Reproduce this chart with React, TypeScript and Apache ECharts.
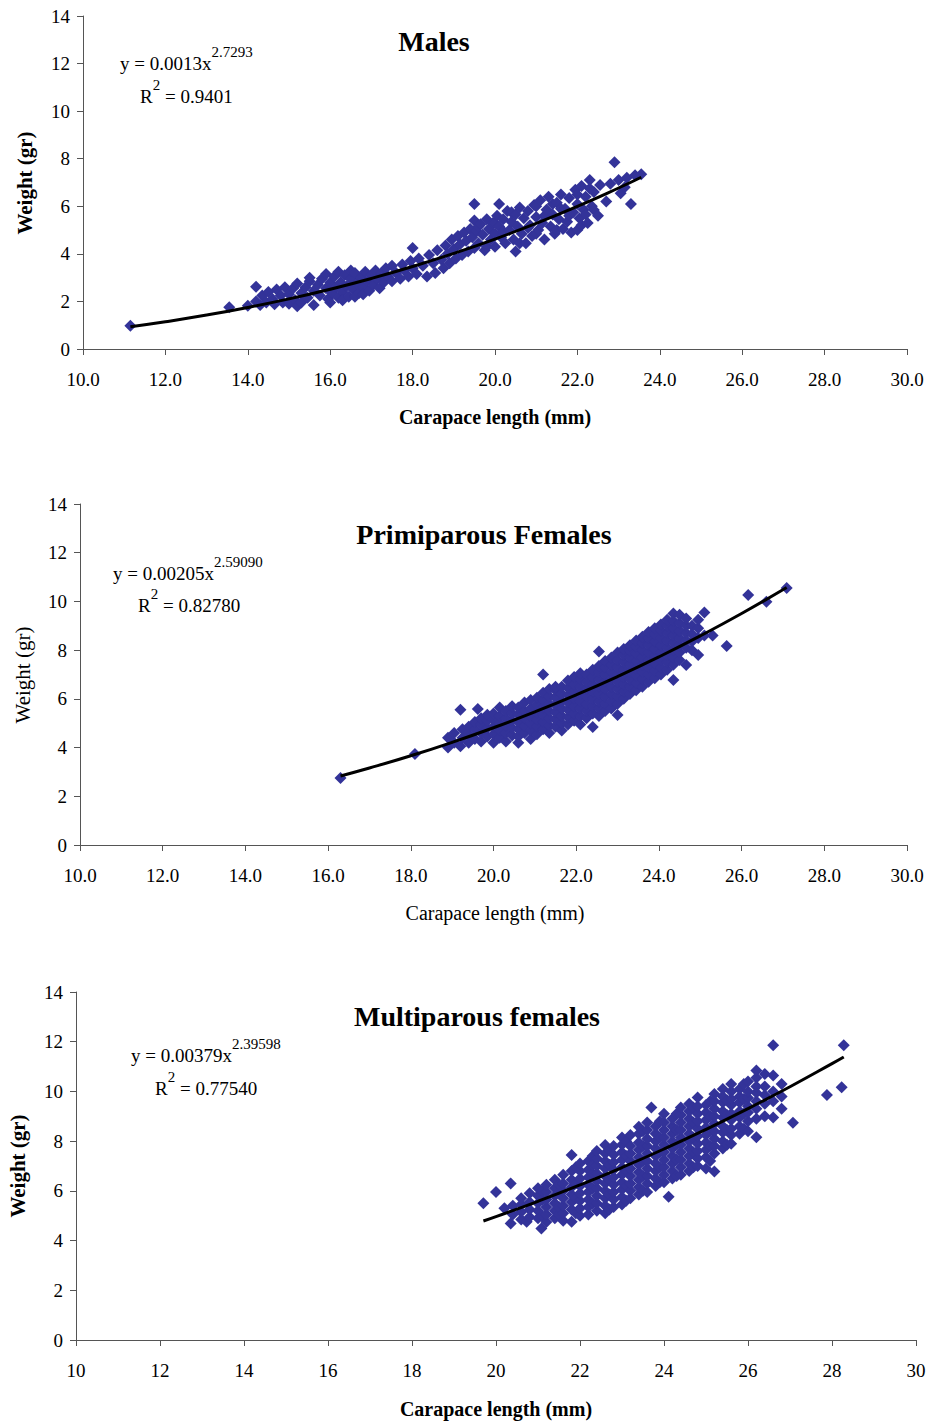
import React, { useEffect, useRef } from "react";
import * as echarts from "echarts";

const FONT = "Liberation Serif";
const MARK = "#333399";

// Axis ticks (carapace length, mm / weight, gr)
const xTicks = [10, 12, 14, 16, 18, 20, 22, 24, 26, 28, 30];
const yTicks = [0, 2, 4, 6, 8, 10, 12, 14];

// Males: [carapace length, weight]
const malesPts: number[][] = [
  [11.15, 0.98], [13.55, 1.76], [14.0, 1.82],
  [14.2, 2.0], [14.2, 2.62], [14.3, 1.85], [14.35, 2.25], [14.45, 1.95], [14.5, 2.4], [14.6, 2.1], [14.65, 1.88],
  [14.7, 2.5], [14.8, 2.25], [14.85, 1.95], [14.9, 2.6], [15.0, 2.3], [15.0, 1.9], [15.1, 2.55], [15.15, 2.05],
  [15.2, 2.75], [15.2, 1.8], [15.3, 2.35], [15.3, 1.95], [15.4, 2.6], [15.45, 2.15], [15.5, 2.85], [15.5, 3.0],
  [15.6, 2.45], [15.6, 1.85], [15.7, 2.7], [15.75, 2.25], [15.8, 2.95], [15.9, 2.55], [15.9, 3.15], [15.95, 2.1],
  [16.0, 2.8], [16.0, 1.95], [16.05, 2.35], [16.1, 3.05], [16.15, 2.6], [16.2, 2.15], [16.2, 3.25], [16.25, 2.8],
  [16.3, 2.4], [16.3, 2.05], [16.35, 3.1], [16.4, 2.65], [16.45, 2.2], [16.5, 2.95], [16.5, 3.3], [16.55, 2.5],
  [16.6, 3.2], [16.6, 2.2], [16.65, 2.75], [16.7, 2.35], [16.75, 3.0], [16.8, 2.6], [16.8, 2.3], [16.85, 3.25],
  [16.9, 2.85], [16.95, 2.45], [17.0, 3.1], [17.05, 2.7], [17.1, 3.3], [17.15, 2.95], [17.2, 2.55], [17.25, 3.2],
  [17.3, 2.8], [17.35, 3.4], [17.4, 3.05], [17.5, 2.85], [17.5, 3.5], [17.6, 3.2], [17.7, 2.95], [17.75, 3.55],
  [17.8, 3.3], [17.9, 3.05], [17.95, 3.7], [18.0, 3.4], [18.0, 4.25], [18.1, 3.15], [18.15, 3.8], [18.25, 3.5],
  [18.35, 3.05], [18.4, 3.95], [18.5, 3.6], [18.55, 3.2], [18.6, 4.15], [18.7, 3.75], [18.75, 3.4], [18.8, 4.35],
  [18.85, 4.0], [18.9, 3.6], [18.95, 4.6], [19.0, 4.2], [19.05, 3.8], [19.1, 4.75], [19.15, 4.4], [19.2, 3.95],
  [19.25, 4.9], [19.3, 4.55], [19.35, 4.1], [19.4, 5.05], [19.45, 4.7], [19.5, 4.25], [19.5, 5.4], [19.5, 6.1],
  [19.55, 4.95], [19.6, 4.45], [19.6, 5.15], [19.65, 5.25], [19.7, 4.8], [19.75, 4.15], [19.8, 5.45], [19.8, 4.3],
  [19.85, 5.05], [19.9, 4.6], [19.95, 5.3], [20.0, 4.85], [20.0, 4.3], [20.0, 5.3], [20.05, 5.6], [20.1, 6.1],
  [20.1, 5.15], [20.15, 4.7], [20.2, 5.45], [20.2, 4.95], [20.25, 4.45], [20.3, 5.8], [20.35, 5.0], [20.4, 5.35],
  [20.4, 5.75], [20.45, 4.6], [20.5, 5.65], [20.5, 4.1], [20.55, 5.15], [20.6, 5.95], [20.6, 4.45], [20.65, 4.85],
  [20.7, 5.5], [20.75, 4.45], [20.8, 5.8], [20.8, 5.1], [20.85, 5.2], [20.9, 4.75], [20.95, 6.05], [21.0, 5.55],
  [21.0, 6.0], [21.0, 4.85], [21.05, 5.0], [21.1, 6.25], [21.15, 5.3], [21.2, 4.6], [21.2, 5.6], [21.25, 5.85],
  [21.3, 6.4], [21.35, 5.15], [21.4, 5.65], [21.4, 6.1], [21.45, 4.85], [21.5, 6.15], [21.5, 5.0], [21.55, 5.45],
  [21.6, 6.5], [21.6, 5.9], [21.65, 5.05], [21.7, 5.9], [21.75, 5.35], [21.8, 6.35], [21.8, 5.6], [21.85, 4.9],
  [21.9, 5.75], [21.95, 6.7], [22.0, 5.0], [22.0, 6.1], [22.0, 6.5], [22.05, 5.5], [22.1, 6.85], [22.1, 5.2],
  [22.15, 5.85], [22.2, 6.4], [22.2, 5.65], [22.25, 5.3], [22.3, 7.1], [22.3, 6.75], [22.35, 6.0], [22.4, 6.6],
  [22.4, 5.84], [22.5, 5.6], [22.55, 6.9], [22.7, 6.2], [22.8, 6.95], [22.9, 7.85], [23.0, 7.1], [23.05, 6.55],
  [23.15, 6.8], [23.2, 7.2], [23.3, 6.1], [23.4, 7.3], [23.55, 7.35],
];

// Primiparous females: columns of weights at each carapace length
const primiCols: [number, number[]][] = [
  [16.3, [2.75]], [18.1, [3.74]], [18.9, [4.0, 4.4]], [19.05, [4.2, 4.6]],
  [19.2, [4.05, 5.55]], [19.25, [4.4, 4.75]], [19.4, [4.2, 4.55, 4.85]], [19.55, [4.35, 4.75, 5.05]],
  [19.62, [5.58]], [19.7, [4.25, 4.6, 4.95, 5.2]], [19.85, [4.45, 4.8, 5.1, 5.35]],
  [20.0, [4.2, 4.55, 4.85, 5.15, 5.4]], [20.15, [4.4, 4.7, 5.0, 5.3, 5.65]],
  [20.3, [4.25, 4.6, 4.9, 5.2, 5.5]], [20.45, [4.5, 4.8, 5.1, 5.4, 5.7]],
  [20.6, [4.2, 4.45, 4.75, 5.05, 5.35, 5.65]], [20.75, [4.6, 4.9, 5.2, 5.5, 5.85]],
  [20.9, [4.35, 4.7, 5.0, 5.3, 5.6, 5.95]], [21.05, [4.55, 4.85, 5.15, 5.45, 5.75, 6.05]],
  [21.2, [4.75, 5.05, 5.35, 5.65, 5.95, 6.25, 7.0]], [21.35, [4.6, 4.9, 5.2, 5.5, 5.8, 6.1, 6.4]],
  [21.5, [4.85, 5.15, 5.45, 5.75, 6.05, 6.35, 6.5]], [21.65, [4.7, 5.0, 5.3, 5.6, 5.9, 6.2, 6.5]],
  [21.8, [4.95, 5.25, 5.55, 5.85, 6.15, 6.45, 6.75]], [21.95, [5.1, 5.4, 5.7, 6.0, 6.3, 6.6, 6.9]],
  [22.1, [4.95, 5.3, 5.6, 5.9, 6.2, 6.5, 6.8, 7.05]], [22.25, [5.2, 5.5, 5.8, 6.1, 6.4, 6.7, 7.0]],
  [22.4, [4.84, 5.4, 5.7, 6.0, 6.3, 6.6, 6.9, 7.2]], [22.55, [5.3, 5.6, 5.9, 6.2, 6.5, 6.8, 7.1, 7.35, 7.94]],
  [22.7, [5.5, 5.8, 6.1, 6.4, 6.7, 7.0, 7.3, 7.55]], [22.85, [5.6, 5.9, 6.2, 6.5, 6.8, 7.1, 7.4, 7.7]],
  [23.0, [5.34, 5.8, 6.1, 6.4, 6.7, 7.0, 7.3, 7.6, 7.9]], [23.15, [6.0, 6.3, 6.6, 6.9, 7.2, 7.5, 7.8, 8.05]],
  [23.3, [6.2, 6.5, 6.8, 7.1, 7.4, 7.7, 8.0, 8.2]], [23.45, [6.35, 6.65, 6.95, 7.25, 7.55, 7.85, 8.15, 8.4]],
  [23.6, [6.5, 6.8, 7.1, 7.4, 7.7, 8.0, 8.3, 8.55]], [23.75, [6.7, 7.0, 7.3, 7.6, 7.9, 8.2, 8.5, 8.75]],
  [23.9, [6.85, 7.15, 7.45, 7.75, 8.05, 8.35, 8.65, 8.9]], [24.05, [7.0, 7.3, 7.6, 7.9, 8.2, 8.5, 8.8, 9.05]],
  [24.2, [7.2, 7.5, 7.8, 8.1, 8.4, 8.7, 9.0, 9.25]], [24.35, [6.77, 7.4, 7.7, 8.0, 8.3, 8.6, 8.9, 9.2, 9.5]],
  [24.5, [7.6, 7.9, 8.2, 8.5, 8.8, 9.1, 9.45]], [24.66, [7.39, 8.1, 8.4, 8.7, 9.0, 9.3]],
  [24.8, [8.0, 8.35, 8.65, 9.0]], [24.95, [7.8, 8.5, 8.9, 9.25]], [25.1, [8.6, 9.55]],
  [25.3, [8.6]], [25.64, [8.17]], [26.16, [10.26]], [26.6, [9.99]], [27.09, [10.55]],
];

// Multiparous females: columns of weights at each carapace length
const multiCols: [number, number[]][] = [
  [19.7, [5.5]], [20.0, [5.95]], [20.2, [5.3]], [20.35, [4.69, 6.3]], [20.4, [5.05, 5.4]],
  [20.6, [4.85, 5.15, 5.45, 5.7]], [20.73, [4.76]], [20.8, [4.95, 5.25, 5.55, 5.9]],
  [21.0, [4.9, 5.2, 5.5, 5.8, 6.1]], [21.08, [4.49]], [21.1, [5.0, 5.65, 6.0]],
  [21.2, [4.75, 5.05, 5.35, 5.65, 5.95, 6.25]], [21.4, [4.9, 5.2, 5.5, 5.8, 6.1, 6.45]],
  [21.5, [5.05, 5.35, 5.95, 6.25]], [21.6, [4.8, 5.1, 5.4, 5.7, 6.0, 6.3, 6.65]],
  [21.8, [4.76, 5.25, 5.55, 5.85, 6.15, 6.45, 6.8, 7.44]], [21.9, [5.1, 5.7, 6.3, 6.95]],
  [22.0, [5.0, 5.3, 5.6, 5.9, 6.2, 6.5, 6.8, 7.1]], [22.2, [5.05, 5.35, 5.65, 5.95, 6.25, 6.55, 6.85, 7.2]],
  [22.3, [5.5, 6.1, 6.7, 7.05, 7.4]],
  [22.4, [5.2, 5.5, 5.8, 6.1, 6.4, 6.7, 7.0, 7.3, 7.6]], [22.6, [5.1, 5.4, 5.7, 6.0, 6.3, 6.6, 6.9, 7.2, 7.5, 7.84]],
  [22.7, [5.25, 5.85, 6.45, 7.05, 7.65]],
  [22.8, [5.35, 5.65, 5.95, 6.25, 6.55, 6.85, 7.15, 7.45, 7.8]],
  [23.0, [5.45, 5.75, 6.05, 6.35, 6.65, 6.95, 7.25, 7.55, 7.85, 8.15]], [23.1, [5.6, 6.2, 6.8, 7.4, 8.0]],
  [23.2, [5.7, 6.0, 6.3, 6.6, 6.9, 7.2, 7.5, 7.8, 8.25]],
  [23.4, [5.85, 6.15, 6.45, 6.75, 7.05, 7.35, 7.65, 7.95, 8.3, 8.58]], [23.5, [6.0, 6.6, 7.2, 7.8, 8.4]],
  [23.6, [5.95, 6.3, 6.6, 6.9, 7.2, 7.5, 7.8, 8.1, 8.45, 8.75]],
  [23.7, [9.35]], [23.8, [6.2, 6.5, 6.8, 7.1, 7.4, 7.7, 8.0, 8.3, 8.6]], [23.9, [6.35, 6.95, 7.55, 8.15, 8.8]],
  [24.0, [6.35, 6.65, 6.95, 7.25, 7.55, 7.85, 8.15, 8.45, 8.75, 9.1]], [24.11, [5.76]],
  [24.2, [6.5, 6.8, 7.1, 7.4, 7.7, 8.0, 8.3, 8.6, 8.9]], [24.3, [6.6, 7.25, 7.85, 8.45, 9.1]],
  [24.4, [6.65, 6.95, 7.25, 7.55, 7.85, 8.15, 8.45, 8.75, 9.05, 9.35]],
  [24.6, [6.8, 7.1, 7.4, 7.7, 8.0, 8.3, 8.6, 8.9, 9.2, 9.5]], [24.7, [6.95, 7.55, 8.15, 8.75, 9.35]],
  [24.8, [7.0, 7.3, 7.6, 7.9, 8.2, 8.5, 8.8, 9.1, 9.4, 9.76]],
  [25.0, [6.9, 7.35, 7.65, 7.95, 8.25, 8.55, 8.85, 9.15, 9.45]], [25.1, [7.2, 7.8, 8.4, 9.0, 9.6]],
  [25.2, [6.78, 7.5, 7.8, 8.1, 8.4, 8.7, 9.0, 9.3, 9.6, 9.9]],
  [25.4, [7.7, 8.0, 8.35, 8.6, 8.95, 9.2, 9.55, 9.8, 10.1]], [25.5, [7.85, 8.45, 9.05, 9.65]],
  [25.6, [7.9, 8.25, 8.5, 8.85, 9.1, 9.45, 9.7, 10.0, 10.3]],
  [25.8, [8.3, 8.6, 8.95, 9.2, 9.55, 9.8, 10.1]], [25.9, [8.5, 9.1, 9.7, 10.3]],
  [26.0, [8.4, 8.8, 9.15, 9.4, 9.75, 10.0, 10.4]],
  [26.2, [8.16, 8.9, 9.3, 9.6, 9.95, 10.2, 10.55, 10.84]],
  [26.4, [9.0, 9.5, 9.85, 10.2, 10.7]],
  [26.6, [8.95, 9.6, 10.0, 10.64, 11.86]], [26.8, [9.3, 9.8, 10.3]],
  [27.07, [8.74]], [27.88, [9.86]], [28.23, [10.17]], [28.28, [11.86]],
];

// Fitted power curves y = a * x^b, with the stated coefficients
const malesFit = { a: 0.0013, b: 2.7293 };
const primiFit = { a: 0.00205, b: 2.5909 };
const multiFit = { a: 0.00379, b: 2.39598 };
const malesFitX = [11.15, 12, 13, 14, 15, 16, 17, 18, 19, 20, 21, 22, 23, 23.55];
const primiFitX = [16.3, 17, 18, 19, 20, 21, 22, 23, 24, 25, 26, 27.09];
const multiFitX = [19.7, 20, 21, 22, 23, 24, 25, 26, 27, 28, 28.28];

const flatten = (cols: [number, number[]][]) =>
  cols.flatMap(([x, ys]) => ys.map((y) => [x, y]));
const fitLine = (xs: number[], f: { a: number; b: number }) =>
  xs.map((x) => [x, f.a * Math.pow(x, f.b)]);

const grids = [
  { left: 83, top: 16, width: 824, height: 333 },
  { left: 80, top: 504, width: 827, height: 341 },
  { left: 76, top: 992, width: 840, height: 348 },
];

const axisLineStyle = { color: "#555", width: 1 };

function makeX(gi: number, decimals: boolean) {
  return {
    type: "value",
    gridIndex: gi,
    min: xTicks[0],
    max: xTicks[xTicks.length - 1],
    interval: xTicks[1] - xTicks[0],
    axisLine: { show: true, onZero: false, lineStyle: axisLineStyle },
    axisTick: { show: true, inside: false, length: 6, lineStyle: axisLineStyle },
    axisLabel: {
      color: "#000",
      fontFamily: FONT,
      fontSize: 19,
      margin: 21,
      showMaxLabel: true,
      showMinLabel: true,
      formatter: (v: number) => (decimals ? v.toFixed(1) : String(v)),
    },
    splitLine: { show: false },
  };
}

function makeY(gi: number) {
  return {
    type: "value",
    gridIndex: gi,
    min: yTicks[0],
    max: yTicks[yTicks.length - 1],
    interval: yTicks[1] - yTicks[0],
    axisLine: { show: true, onZero: false, lineStyle: axisLineStyle },
    axisTick: { show: true, inside: false, length: 6, lineStyle: axisLineStyle },
    axisLabel: { color: "#000", fontFamily: FONT, fontSize: 19, margin: 13 },
    splitLine: { show: false },
  };
}

function txt(x: number, y: number, text: string, size: number, bold: boolean, rotate = 0, align = "center") {
  return {
    type: "text",
    x,
    y,
    rotation: rotate,
    style: {
      text,
      fill: "#000",
      font: `${bold ? "bold " : ""}${size}px "${FONT}"`,
      textAlign: align,
      textVerticalAlign: "middle",
      align,
      verticalAlign: "middle",
    },
  };
}

const richStyles = {
  b: { fontFamily: FONT, fontSize: 19, color: "#000", lineHeight: 28, verticalAlign: "bottom" },
  s: { fontFamily: FONT, fontSize: 15, color: "#000", lineHeight: 28, verticalAlign: "top" },
};

function eqText(x: number, y: number, text: string) {
  return {
    type: "text",
    x,
    y,
    style: {
      text,
      rich: richStyles,
      textAlign: "left",
      textVerticalAlign: "middle",
      align: "left",
      verticalAlign: "middle",
    },
  };
}

function scatter(gi: number, data: number[][]) {
  return {
    type: "scatter",
    xAxisIndex: gi,
    yAxisIndex: gi,
    data,
    symbol: "diamond",
    symbolSize: 12,
    itemStyle: { color: MARK, opacity: 1 },
    z: 2,
  };
}

function trend(gi: number, data: number[][]) {
  return {
    type: "line",
    xAxisIndex: gi,
    yAxisIndex: gi,
    data,
    showSymbol: false,
    symbol: "none",
    smooth: true,
    lineStyle: { color: "#000", width: 3 },
    z: 3,
  };
}

export default function App() {
  const ref = useRef<HTMLDivElement>(null);

  useEffect(() => {
    if (!ref.current) return;
    const chart = echarts.init(ref.current, null, { renderer: "svg" });
    chart.setOption({
      animation: false,
      backgroundColor: "#fff",
      grid: grids,
      xAxis: [makeX(0, true), makeX(1, true), makeX(2, false)],
      yAxis: [makeY(0), makeY(1), makeY(2)],
      series: [
        scatter(0, malesPts),
        trend(0, fitLine(malesFitX, malesFit)),
        scatter(1, flatten(primiCols)),
        trend(1, fitLine(primiFitX, primiFit)),
        scatter(2, flatten(multiCols)),
        trend(2, fitLine(multiFitX, multiFit)),
      ],
      graphic: [
        // Males
        txt(434, 41, "Males", 28, true),
        eqText(120, 58.5, "{b|y = 0.0013x}{s|2.7293}"),
        eqText(140, 91.5, "{b|R}{s|2}{b| = 0.9401}"),
        txt(495, 417, "Carapace length (mm)", 20, true),
        txt(25, 183, "Weight (gr)", 21, true, Math.PI / 2),
        // Primiparous females
        txt(484, 534, "Primiparous Females", 28, true),
        eqText(113, 568.5, "{b|y = 0.00205x}{s|2.59090}"),
        eqText(138, 600.5, "{b|R}{s|2}{b| = 0.82780}"),
        txt(495, 913, "Carapace length (mm)", 20, false),
        txt(23, 675, "Weight (gr)", 21, false, Math.PI / 2),
        // Multiparous females
        txt(477, 1016, "Multiparous females", 28, true),
        eqText(131, 1050.5, "{b|y = 0.00379x}{s|2.39598}"),
        eqText(155, 1083.5, "{b|R}{s|2}{b| = 0.77540}"),
        txt(496, 1409, "Carapace length (mm)", 20, true),
        txt(18, 1166, "Weight (gr)", 21, true, Math.PI / 2),
      ],
    });
    return () => chart.dispose();
  }, []);

  return (
    <div
      ref={ref}
      style={{ position: "absolute", left: 0, top: 0, width: 931, height: 1422 }}
    />
  );
}
